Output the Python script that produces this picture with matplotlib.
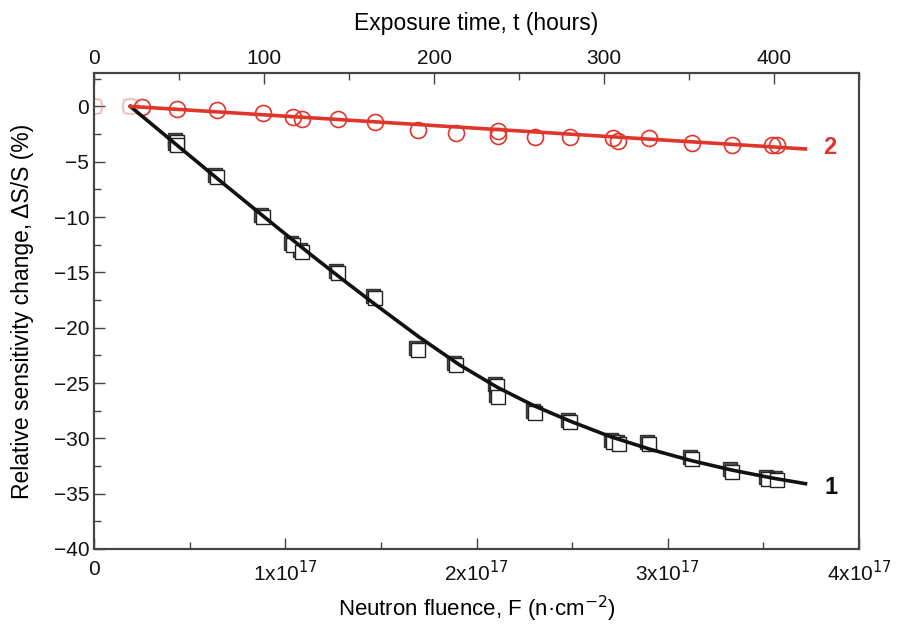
import matplotlib
matplotlib.use("Agg")
import matplotlib.pyplot as plt
import matplotlib.transforms as mtransforms
from matplotlib.ticker import MultipleLocator, FixedLocator, FixedFormatter

plt.rcParams['font.family'] = ['Liberation Sans', 'DejaVu Sans']

# fluence in units of 1e17 n/cm^2, change in %
sq_x = [0.434, 0.434, 0.643, 0.884, 1.04, 1.088, 1.276, 1.47, 1.694, 1.893,
        2.107, 2.112, 2.306, 2.489, 2.714, 2.745, 2.902, 3.127, 3.336, 3.525, 3.571]
sq_y = [-3.2, -3.5, -6.4, -10.0, -12.5, -13.2, -15.1, -17.3, -22.0, -23.4,
        -25.3, -26.3, -27.7, -28.5, -30.3, -30.5, -30.5, -31.9, -33.0, -33.7, -33.8]

ci_x = [0.25, 0.434, 0.643, 0.884, 1.04, 1.088, 1.276, 1.47, 1.694, 1.893,
        2.112, 2.112, 2.306, 2.489, 2.714, 2.74, 2.902, 3.127, 3.336, 3.545, 3.571]
ci_y = [-0.1, -0.25, -0.3, -0.6, -0.95, -1.1, -1.1, -1.4, -2.1, -2.4,
        -2.2, -2.7, -2.8, -2.75, -2.85, -3.1, -2.85, -3.3, -3.5, -3.5, -3.5]

faint_x = [0.0, 0.19]
faint_y = [0.0, 0.0]

# fitted curves
fit1_x = [0.19, 0.43, 0.65, 0.88, 1.13, 1.30, 1.47, 1.70, 1.91, 2.11, 2.30, 2.49,
          2.70, 2.91, 3.12, 3.33, 3.55, 3.72]
fit1_y = [0, -3.45, -6.6, -9.85, -13.35, -15.65, -17.9, -20.85, -23.35, -25.4, -27.05, -28.45,
          -29.85, -31.0, -32.0, -32.85, -33.6, -34.1]
fit2_x = [0.19, 3.72]
fit2_y = [0.0, -3.85]

xticks = [0, 1, 2, 3, 4]
xticklabels = ['0', '1x10$^{17}$', '2x10$^{17}$', '3x10$^{17}$', '4x10$^{17}$']
top_ticks = [0, 100, 200, 300, 400]

RED = '#e0352b'
FRAME = '#444444'

fig = plt.figure(figsize=(8.98, 6.31), dpi=100)
ax = fig.add_axes([0.1047, 0.130, 0.8519, 0.754])

# square markers with a slight dark shadow behind them
shadow = ax.transData + mtransforms.ScaledTranslation(-1.5 / 72, 1.5 / 72, fig.dpi_scale_trans)
ax.plot(sq_x, sq_y, 's', ms=10, mfc='#555555', mec='#333333', mew=1.0,
        transform=shadow, zorder=2)
ax.plot(sq_x, sq_y, 's', ms=10, mfc='white', mec='#222222', mew=1.0, zorder=3)
ax.plot(faint_x, faint_y, 's', ms=10, mfc='none', mec='#e8a0a0', mew=1.0, alpha=0.5, zorder=2)

ax.plot(ci_x, ci_y, 'o', ms=11.5, mfc='none', mec=RED, mew=1.2, zorder=3)
ax.plot(faint_x, faint_y, 'o', ms=11.5, mfc='none', mec=RED, mew=1.0, alpha=0.25, zorder=3)

ax.plot(fit1_x, fit1_y, '-', color='#111111', lw=2.6, zorder=4)
ax.plot(fit2_x, fit2_y, '-', color=RED, lw=2.6, zorder=4)

ax.text(3.82, -34.4, '1', fontsize=17, fontweight='bold', color='#111111', va='center')
ax.text(3.81, -3.75, '2', fontsize=17, fontweight='bold', color=RED, va='center')

ax.set_xlim(0, 4)
ax.set_ylim(-40, 3)
ax.xaxis.set_major_locator(FixedLocator(xticks))
ax.xaxis.set_major_formatter(FixedFormatter(xticklabels))
ax.xaxis.set_minor_locator(MultipleLocator(0.5))
ax.yaxis.set_major_locator(MultipleLocator(5))
ax.yaxis.set_minor_locator(MultipleLocator(2.5))

ax.set_xlabel('Neutron fluence, F (n·cm$^{\u22122}$)', fontsize=16, labelpad=6)
ax.set_ylabel('Relative sensitivity change, ΔS/S (%)', fontsize=16.5, labelpad=14)

ax2 = ax.twiny()
ax2.set_xlim(0, 450)
ax2.xaxis.set_major_locator(FixedLocator(top_ticks))
ax2.xaxis.set_minor_locator(MultipleLocator(50))
ax2.set_xlabel('Exposure time, t (hours)', fontsize=16.5, labelpad=14)

for a in (ax, ax2):
    for s in a.spines.values():
        s.set_color(FRAME)
        s.set_linewidth(1.5)
    a.tick_params(which='both', direction='in', colors=FRAME, labelcolor='#111111',
                  labelsize=15, width=1.0)
    a.tick_params(which='major', length=8)
    a.tick_params(which='minor', length=5)
ax.tick_params(axis='x', pad=8)

fig.savefig('out.png', dpi=100)
